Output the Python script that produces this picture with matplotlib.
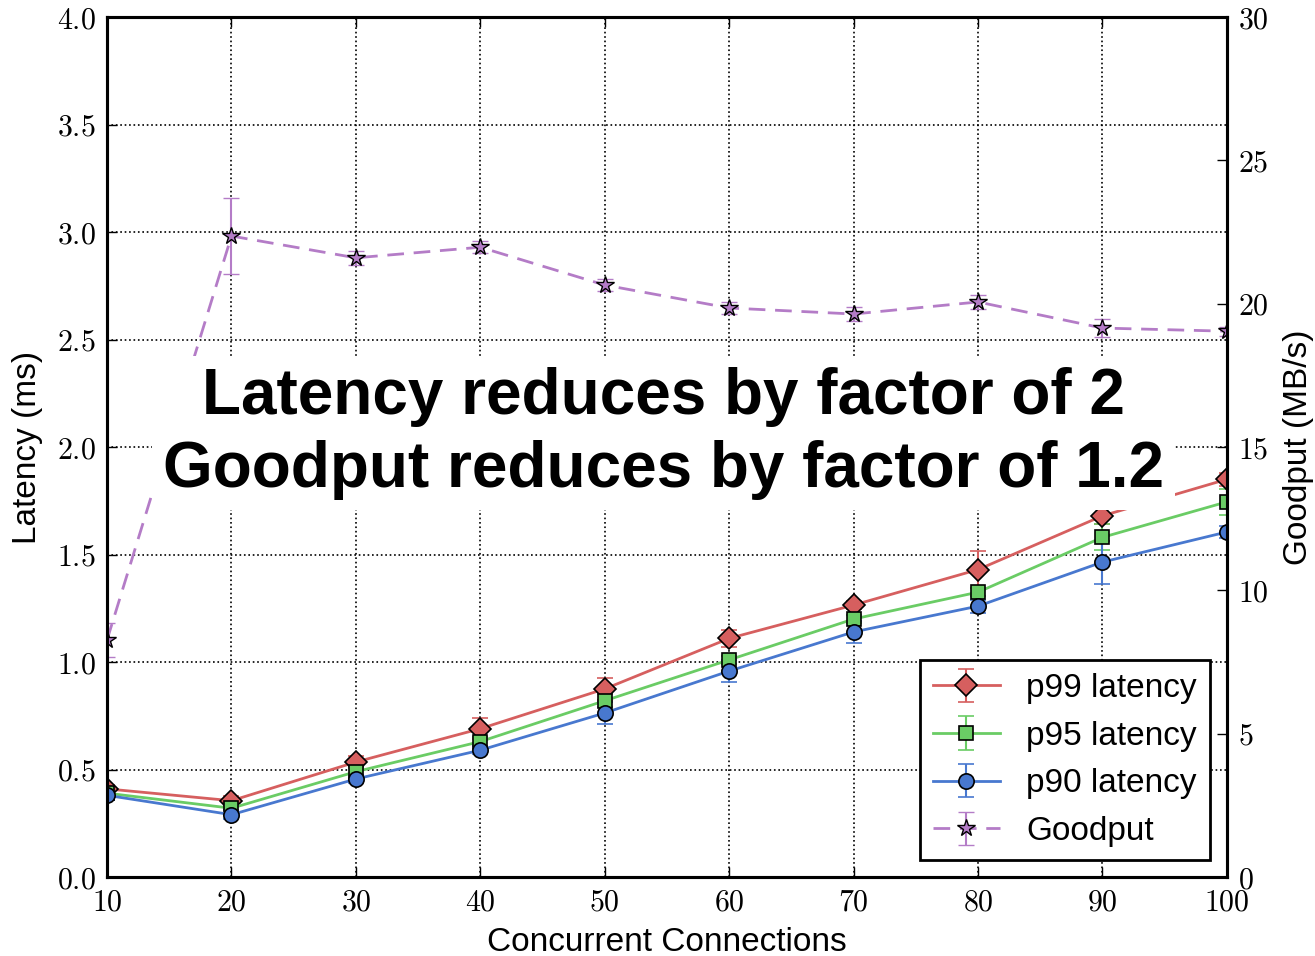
import matplotlib
matplotlib.use("Agg")
import matplotlib.pyplot as plt
from matplotlib.ticker import FuncFormatter, MultipleLocator

plt.rcParams["font.family"] = ["Liberation Sans", "DejaVu Sans"]
plt.rcParams["mathtext.fontset"] = "cm"

connections = [10, 20, 30, 40, 50, 60, 70, 80, 90, 100]

p99 = [0.41, 0.355, 0.535, 0.69, 0.875, 1.11, 1.265, 1.43, 1.68, 1.85]
p99_err = [0.02, 0.02, 0.03, 0.05, 0.05, 0.04, 0.02, 0.085, 0.04, 0.03]
p95 = [0.39, 0.32, 0.49, 0.63, 0.82, 1.01, 1.20, 1.325, 1.58, 1.745]
p95_err = [0.02, 0.02, 0.02, 0.02, 0.03, 0.02, 0.02, 0.02, 0.06, 0.06]
p90 = [0.38, 0.29, 0.456, 0.59, 0.763, 0.958, 1.14, 1.26, 1.465, 1.605]
p90_err = [0.02, 0.02, 0.02, 0.02, 0.05, 0.05, 0.05, 0.03, 0.10, 0.03]

goodput = [8.27, 22.36, 21.6, 21.97, 20.65, 19.85, 19.64, 20.06, 19.15, 19.04]
goodput_err = [0.6, 1.33, 0.25, 0.2, 0.2, 0.2, 0.24, 0.25, 0.3, 0.15]

RED = "#D65F5F"
GREEN = "#6ACC65"
BLUE = "#4878CF"
PURPLE = "#B47CC7"

cm_fmt = FuncFormatter(lambda v, pos: f"${v:g}$")
cm_fmt1 = FuncFormatter(lambda v, pos: f"${v:.1f}$")

fig = plt.figure(figsize=(13.15, 9.56), dpi=100)
ax = fig.add_axes([0.0814, 0.0826, 0.8516, 0.8996])
ax2 = ax.twinx()

common = dict(lw=2, elinewidth=1.5, capsize=5.5, capthick=1.5, ms=11,
              mec="black", mew=1.2)
h99 = ax.errorbar(connections, p99, yerr=p99_err, color=RED, ecolor=RED,
                  marker="D", mfc=RED, label="p99 latency", **common)
h95 = ax.errorbar(connections, p95, yerr=p95_err, color=GREEN, ecolor=GREEN,
                  marker="s", mfc=GREEN, label="p95 latency",
                  **{**common, "ms": 10})
h90 = ax.errorbar(connections, p90, yerr=p90_err, color=BLUE, ecolor=BLUE,
                  marker="o", mfc=BLUE, label="p90 latency", **common)
hg = ax2.errorbar(connections, goodput, yerr=goodput_err, color=PURPLE,
                  ecolor=PURPLE, marker="*", mfc=PURPLE, ls="--",
                  dashes=(6, 3.5), label="Goodput",
                  **{**common, "ms": 13, "mew": 1.0})

ax.set_xlim(10, 100)
ax.set_ylim(0, 4.0)
ax2.set_ylim(0, 30)
ax.xaxis.set_major_locator(MultipleLocator(10))
ax.yaxis.set_major_locator(MultipleLocator(0.5))
ax2.yaxis.set_major_locator(MultipleLocator(5))
ax.xaxis.set_major_formatter(cm_fmt)
ax.yaxis.set_major_formatter(cm_fmt1)
ax2.yaxis.set_major_formatter(cm_fmt)

ax.grid(True, color="black", linestyle=":", linewidth=1.2)
ax.tick_params(axis="both", direction="in", length=7, width=1,
               labelsize=21.5, pad=8, top=True)
ax2.tick_params(axis="y", direction="in", length=7, width=1,
                labelsize=21.5, pad=8)
for a in (ax, ax2):
    for s in a.spines.values():
        s.set_linewidth(2.2)

ax.set_xlabel("Concurrent Connections", fontsize=24, labelpad=8)
ax.set_ylabel("Latency (ms)", fontsize=24, labelpad=10)
ax2.set_ylabel("Goodput (MB/s)", fontsize=24, labelpad=10)

# white box hides the lines and grid underneath, as in the original
ax2.text(0.497, 0.516,
         "Latency reduces by factor of 2\nGoodput reduces by factor of 1.2",
         transform=ax2.transAxes, ha="center", va="center", fontsize=46,
         fontweight="bold", linespacing=1.27, zorder=4,
         bbox=dict(facecolor="white", edgecolor="none", pad=8))

leg = ax2.legend([h99, h95, h90, hg],
                 ["p99 latency", "p95 latency", "p90 latency", "Goodput"],
                 loc="lower right", fontsize=24, numpoints=1,
                 fancybox=False, framealpha=1, edgecolor="black",
                 borderaxespad=0.5, handlelength=2.0, handletextpad=0.8,
                 labelspacing=0.5, borderpad=0.4)
leg.get_frame().set_linewidth(2)
leg.set_zorder(5)

fig.savefig("out.png", dpi=100)
